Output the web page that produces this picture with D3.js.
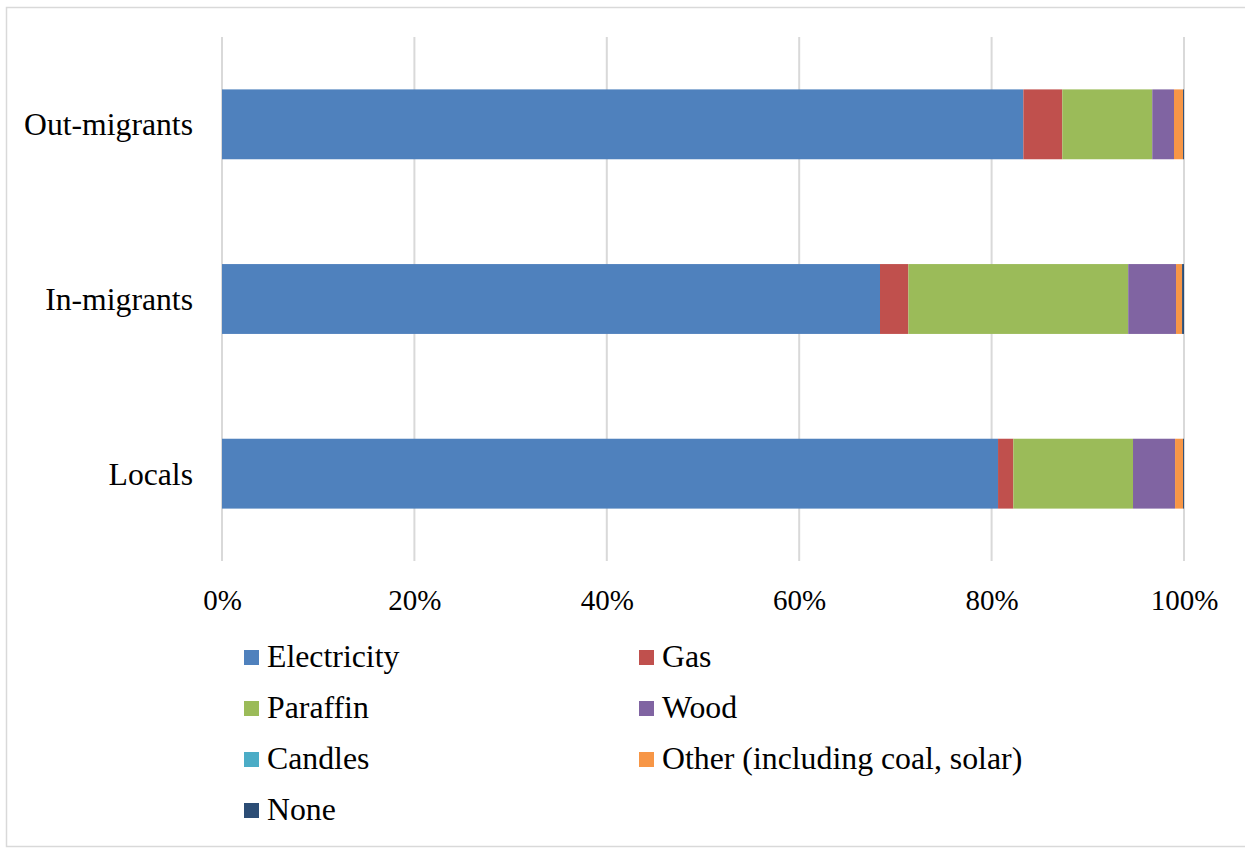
<!DOCTYPE html>
<html>
<head>
<meta charset="utf-8">
<script src="https://cdn.jsdelivr.net/npm/d3@7/dist/d3.min.js"></script>
<style>
  html, body { margin: 0; padding: 0; background: #fff; }
  svg text { font-family: "Liberation Serif", "Times New Roman", serif; fill: #000; }
</style>
</head>
<body>
<svg id="chart" width="1245" height="848"></svg>
<script>
// Household energy source for lighting, by migrant group (percent of households)
const groups = ["Out-migrants", "In-migrants", "Locals"];
const sources = ["Electricity", "Gas", "Paraffin", "Wood", "Candles", "Other (including coal, solar)", "None"];
const electricity = [83.3, 68.4, 80.67];
const gas         = [4.05, 2.95, 1.59];
const paraffin    = [9.35, 22.85, 12.44];
const wood        = [2.26, 4.97, 4.37];
const candles     = [0, 0, 0];
const other       = [0.94, 0.63, 0.83];
const none        = [0.1, 0.2, 0.1];
const tickValues  = [0, 20, 40, 60, 80, 100];
const colors = ["#4F81BD", "#C0504D", "#9BBB59", "#8064A2", "#4BACC6", "#F79646", "#2C4D75"];

const seriesValues = [electricity, gas, paraffin, wood, candles, other, none];
const rows = groups.map((g, i) => {
  const r = { group: g };
  sources.forEach((s, k) => { r[s] = seriesValues[k][i]; });
  return r;
});

const svg = d3.select("#chart");

// outer chart frame
svg.append("rect")
  .attr("x", 6.5).attr("y", 7.5)
  .attr("width", 1260).attr("height", 839)
  .attr("fill", "none").attr("stroke", "#d9d9d9").attr("stroke-width", 1.5);

const plot = { left: 222, right: 1184, top: 37, bottom: 561 };

const x = d3.scaleLinear().domain([0, 100]).range([plot.left, plot.right]);
const y = d3.scaleBand().domain(groups).range([plot.top, plot.bottom]).paddingInner(0.6).paddingOuter(0.3);

// vertical gridlines
svg.append("g")
  .selectAll("line")
  .data(tickValues)
  .join("line")
  .attr("x1", d => x(d)).attr("x2", d => x(d))
  .attr("y1", plot.top).attr("y2", plot.bottom)
  .attr("stroke", "#d9d9d9").attr("stroke-width", 2);

// stacked bars
const stack = d3.stack().keys(sources);
const layers = stack(rows);

svg.append("g")
  .selectAll("g")
  .data(layers)
  .join("g")
  .attr("fill", (d, i) => colors[i])
  .selectAll("rect")
  .data(d => d)
  .join("rect")
  .attr("x", d => x(d[0]))
  .attr("width", d => Math.max(0, x(d[1]) - x(d[0])))
  .attr("y", d => y(d.data.group))
  .attr("height", y.bandwidth());

// x axis tick labels
const xAxis = d3.axisBottom(x).tickValues(tickValues).tickFormat(d => d + "%").tickSize(0).tickPadding(0);
const gx = svg.append("g").attr("transform", `translate(0, ${plot.bottom})`).call(xAxis);
gx.select(".domain").remove();
gx.selectAll("text")
  .attr("dy", null).attr("y", 49)
  .style("font-family", "'Liberation Serif', 'Times New Roman', serif")
  .style("font-size", "29px").attr("fill", "#000");

// category labels
const yAxis = d3.axisLeft(y).tickSize(0).tickPadding(0);
const gy = svg.append("g").attr("transform", `translate(193, 0)`).call(yAxis);
gy.select(".domain").remove();
gy.selectAll("text")
  .attr("x", 0).attr("dy", "0.35em")
  .style("font-family", "'Liberation Serif', 'Times New Roman', serif")
  .style("font-size", "31.7px").attr("fill", "#000");

// legend: two columns, filled row by row
const legendCols = [244, 639];
const legendTop = 650;
const legendStep = 51;
const legend = svg.append("g")
  .selectAll("g")
  .data(sources)
  .join("g")
  .attr("transform", (d, i) => `translate(${legendCols[i % 2]}, ${legendTop + Math.floor(i / 2) * legendStep})`);
legend.append("rect")
  .attr("width", 15).attr("height", 15)
  .attr("fill", (d, i) => colors[i]);
legend.append("text")
  .attr("x", 23).attr("y", 17)
  .style("font-size", "31.8px")
  .text(d => d);
</script>
</body>
</html>
